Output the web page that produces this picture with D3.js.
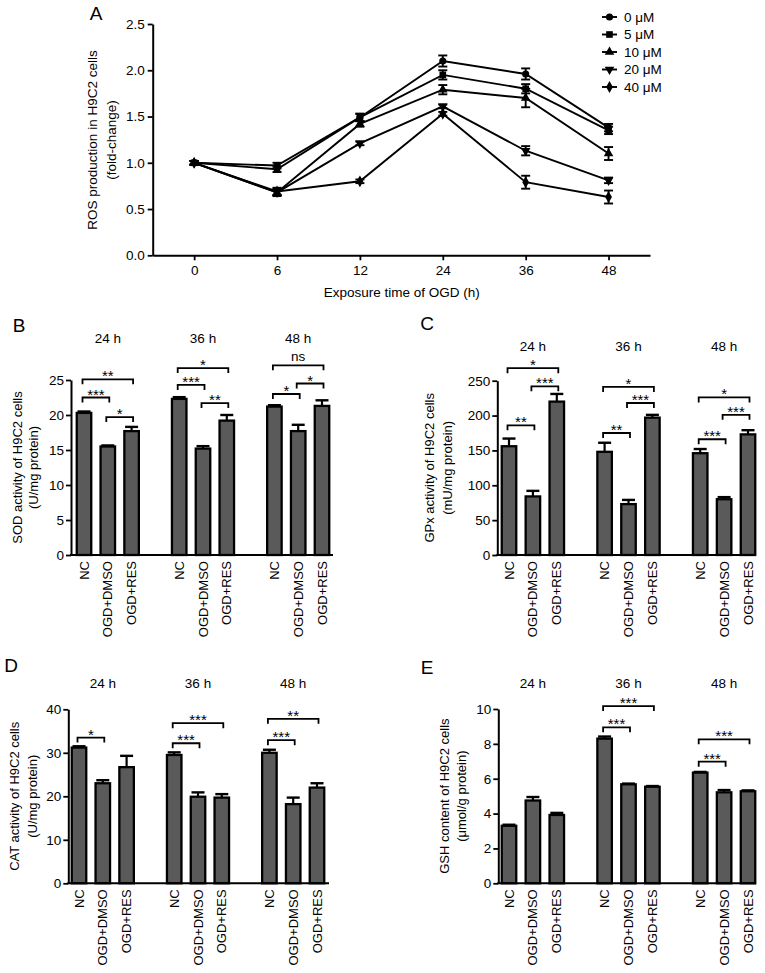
<!DOCTYPE html>
<html><head><meta charset="utf-8">
<script src="https://cdn.jsdelivr.net/npm/d3@7"></script>
<style>
body{margin:0;background:#fff}
svg{display:block}
text{font-family:"Liberation Sans",Arial,Helvetica,sans-serif;fill:#000}
</style>
</head><body>
<svg id="chart" width="765" height="973"></svg>
<script>
// ---------------- Panel A data ----------------
const timePoints = ["0","6","12","24","36","48"];
const doses = ["0 \u03bcM","5 \u03bcM","10 \u03bcM","20 \u03bcM","40 \u03bcM"];
const ros0  = [1.00,0.97,1.49,2.10,1.96,1.38];
const ros5  = [1.00,0.93,1.49,1.95,1.80,1.35];
const ros10 = [1.00,0.68,1.42,1.79,1.70,1.10];
const ros20 = [1.00,0.68,1.21,1.61,1.13,0.81];
const ros40 = [1.00,0.69,0.80,1.53,0.79,0.63];
const rosErr0  = [0.02,0.03,0.04,0.06,0.06,0.04];
const rosErr5  = [0.02,0.03,0.04,0.05,0.05,0.04];
const rosErr10 = [0.02,0.04,0.03,0.05,0.10,0.07];
const rosErr20 = [0.02,0.03,0.02,0.02,0.05,0.03];
const rosErr40 = [0.02,0.04,0.02,0.02,0.07,0.07];
const rosTicks = [0,0.5,1,1.5,2,2.5];

// ---------------- Bar panels data ----------------
const groups = ["24 h","36 h","48 h"];
const treatments = ["NC","OGD+DMSO","OGD+RES"];

const sodMean = [[20.3,15.5,17.7],[22.3,15.2,19.2],[21.2,17.7,21.3]];
const sodErr  = [[0.2,0.15,0.6],[0.25,0.35,0.8],[0.2,0.9,0.8]];
const sodTicks = [0,5,10,15,20,25];
const sodSig = [[0,0,2,25.1,"**"],[0,0,1,22.5,"***"],[0,1,2,19.7,"*"],
                [1,0,2,26.7,"*"],[1,0,1,24.3,"***"],[1,1,2,21.7,"**"],
                [2,0,2,27.1,"ns"],[2,0,1,23.0,"*"],[2,1,2,24.5,"*"]];

const gpxMean = [[156,84,220],[148,73,197],[146,80,173]];
const gpxErr  = [[11,8,11],[13,6,4],[6,3,6]];
const gpxTicks = [0,50,100,150,200,250];
const gpxSig = [[0,0,2,268,"*"],[0,1,2,242,"***"],[0,0,1,186,"**"],
                [1,0,2,241,"*"],[1,1,2,218,"***"],[1,0,1,175,"**"],
                [2,0,2,226,"*"],[2,1,2,201,"***"],[2,0,1,166,"***"]];

const catMean = [[31.2,23.0,26.7],[29.5,19.9,19.7],[30.0,18.2,22.0]];
const catErr  = [[0.3,0.7,2.6],[0.6,1.0,0.8],[0.7,1.5,1.0]];
const catTicks = [0,10,20,30,40];
const catSig = [[0,0,1,33.5,"*"],
                [1,0,2,36.8,"***"],[1,0,1,32.2,"***"],
                [2,0,2,37.8,"**"],[2,0,1,32.9,"***"]];

const gshMean = [[3.3,4.75,3.92],[8.3,5.68,5.54],[6.35,5.22,5.28]];
const gshErr  = [[0.06,0.2,0.12],[0.12,0.04,0.04],[0.04,0.13,0.05]];
const gshTicks = [0,2,4,6,8,10];
const gshSig = [[1,0,2,10.17,"***"],[1,0,1,8.95,"***"],
                [2,0,2,8.26,"***"],[2,0,1,6.98,"***"]];

// ---------------- drawing ----------------
const svg = d3.select("#chart");
const FONT = 13.5;

function styleAxis(g){
  g.select(".domain").attr("stroke","#000").attr("stroke-width",2);
  g.selectAll(".tick line").attr("stroke","#000").attr("stroke-width",1.8);
  g.selectAll(".tick text").attr("font-size",FONT).attr("fill","#000")
    .style("font-family","'Liberation Sans',Arial,sans-serif");
}

// ----- Panel A -----
(function(){
  const x = d3.scalePoint().domain(timePoints).range([152.7,650]).padding(0.5);
  const y = d3.scaleLinear().domain([0,2.5]).range([255.3,24]);
  const g = svg.append("g");
  g.append("text").attr("x",96).attr("y",20).attr("font-size",19).attr("text-anchor","middle").text("A");

  const ya = g.append("g").attr("transform","translate(152.7,0)")
    .call(d3.axisLeft(y).tickValues(rosTicks).tickFormat(d3.format(".1f")).tickSize(5).tickSizeOuter(0).tickPadding(3));
  styleAxis(ya);
  const xa = g.append("g").attr("transform","translate(0,255.3)")
    .call(d3.axisBottom(x).tickSize(5).tickSizeOuter(0).tickPadding(5));
  styleAxis(xa);

  g.append("text").attr("x",401.7).attr("y",297).attr("text-anchor","middle").attr("font-size",FONT)
    .text("Exposure time of OGD (h)");
  const yl = g.append("text").attr("transform","translate(0,140) rotate(-90)").attr("text-anchor","middle").attr("font-size",FONT);
  yl.append("tspan").attr("x",0).attr("y",97).text("ROS production in H9C2 cells");
  yl.append("tspan").attr("x",0).attr("y",116).text("(fold-change)");

  const series = [ros0,ros5,ros10,ros20,ros40];
  const errs = [rosErr0,rosErr5,rosErr10,rosErr20,rosErr40];
  const syms = [
    {t:d3.symbolCircle,s:40,r:0},{t:d3.symbolSquare,s:44,r:0},
    {t:d3.symbolTriangle,s:40,r:0},{t:d3.symbolTriangle,s:40,r:180},
    {t:d3.symbolDiamond,s:40,r:0}];
  const line = d3.line().x((d,i)=>x(timePoints[i])).y(d=>y(d));
  series.forEach((s,k)=>{
    g.append("path").attr("d",line(s)).attr("fill","none").attr("stroke","#000").attr("stroke-width",1.9);
  });
  series.forEach((s,k)=>{
    s.forEach((v,i)=>{
      const cx = x(timePoints[i]), e = errs[k][i];
      const y1 = y(v+e), y2 = y(v-e);
      g.append("line").attr("x1",cx).attr("x2",cx).attr("y1",y1).attr("y2",y2).attr("stroke","#000").attr("stroke-width",1.9);
      [y1,y2].forEach(yy=>g.append("line").attr("x1",cx-4.5).attr("x2",cx+4.5).attr("y1",yy).attr("y2",yy).attr("stroke","#000").attr("stroke-width",1.9));
      g.append("path").attr("d",d3.symbol().type(syms[k].t).size(syms[k].s)())
        .attr("transform",`translate(${cx},${y(v)}) rotate(${syms[k].r})`).attr("fill","#000");
    });
  });
  // legend
  const ly = d3.scalePoint().domain(doses).range([17,87]);
  doses.forEach((d,k)=>{
    const yy = ly(d);
    g.append("line").attr("x1",602).attr("x2",617).attr("y1",yy).attr("y2",yy).attr("stroke","#000").attr("stroke-width",1.9);
    g.append("path").attr("d",d3.symbol().type(syms[k].t).size(syms[k].s)())
      .attr("transform",`translate(609.5,${yy}) rotate(${syms[k].r})`).attr("fill","#000");
    g.append("text").attr("x",624).attr("y",yy).attr("dy","0.35em").attr("font-size",FONT).text(d);
  });
})();

// ----- Bar panels -----
function barPanel(cfg){
  const {label,lx,ly,mean,err,ticks,sig,yTitle1,yTitle2,ytx1,ytx2,
         ax0,ax1,c0,step,y0,y1,ymax,gly} = cfg;
  const g = svg.append("g");
  const slot = d3.scaleLinear().domain([(ax0-c0)/step,(ax1-c0)/step]).range([ax0,ax1]);
  const y = d3.scaleLinear().domain([0,ymax]).range([y0,y1]);
  const cx = (gi,bi)=>slot(gi*4+bi);
  g.append("text").attr("x",lx).attr("y",ly).attr("font-size",19).attr("text-anchor","middle").text(label);

  // bars
  const bw = 14.5;
  mean.forEach((row,gi)=>row.forEach((v,bi)=>{
    const c = cx(gi,bi), e = err[gi][bi];
    g.append("line").attr("x1",c).attr("x2",c).attr("y1",y(v)).attr("y2",y(v+e)).attr("stroke","#000").attr("stroke-width",2.2);
    g.append("line").attr("x1",c-6.5).attr("x2",c+6.5).attr("y1",y(v+e)).attr("y2",y(v+e)).attr("stroke","#000").attr("stroke-width",2.4);
    g.append("rect").attr("x",c-bw/2).attr("y",y(v)).attr("width",bw).attr("height",y(0)-y(v))
      .attr("fill","#5a5a5a").attr("stroke","#000").attr("stroke-width",2.3);
  }));

  const ya = g.append("g").attr("transform",`translate(${ax0},0)`)
    .call(d3.axisLeft(y).tickValues(ticks).tickSize(5).tickSizeOuter(0).tickPadding(2));
  styleAxis(ya);
  g.append("line").attr("x1",ax0-1).attr("x2",ax1).attr("y1",y0).attr("y2",y0).attr("stroke","#000").attr("stroke-width",2);

  // x labels
  groups.forEach((gr,gi)=>{
    g.append("text").attr("x",cx(gi,1)).attr("y",gly).attr("text-anchor","middle").attr("font-size",FONT).text(gr);
    treatments.forEach((t,bi)=>{
      g.append("text").attr("transform",`translate(${cx(gi,bi)},${y0+6}) rotate(-90)`)
        .attr("text-anchor","end").attr("dy","0.35em").attr("font-size",13).text(t);
    });
  });

  // significance brackets
  sig.forEach(([gi,a,b,v,lab])=>{
    const xa = cx(gi,a)-1.5, xb = cx(gi,b)+1.5, yy = y(v);
    g.append("path").attr("d",`M${xa},${yy+5}V${yy}H${xb}V${yy+5}`).attr("fill","none").attr("stroke","#000").attr("stroke-width",1.8);
    if(lab==="ns"){
      g.append("text").attr("x",(xa+xb)/2).attr("y",yy-4).attr("text-anchor","middle").attr("font-size",FONT).text(lab);
    } else {
      g.append("text").attr("x",(xa+xb)/2).attr("y",yy+2).attr("text-anchor","middle").attr("font-size",15).text(lab);
    }
  });

  const yl = g.append("text").attr("transform",`translate(0,${(y0+y1)/2}) rotate(-90)`).attr("text-anchor","middle").attr("font-size",13);
  yl.append("tspan").attr("x",0).attr("y",ytx1+4).text(yTitle1);
  yl.append("tspan").attr("x",0).attr("y",ytx2+4).text(yTitle2);
}

barPanel({label:"B",lx:19,ly:332,mean:sodMean,err:sodErr,ticks:sodTicks,sig:sodSig,
  yTitle1:"SOD activity of H9C2 cells",yTitle2:"(U/mg protein)",ytx1:18,ytx2:34,
  ax0:71,ax1:333,c0:84,step:23.8,y0:555,y1:380,ymax:25,gly:343});
barPanel({label:"C",lx:427,ly:330,mean:gpxMean,err:gpxErr,ticks:gpxTicks,sig:gpxSig,
  yTitle1:"GPx activity of H9C2 cells",yTitle2:"(mU/mg protein)",ytx1:430,ytx2:448,
  ax0:497.3,ax1:753,c0:509,step:23.9,y0:555,y1:380.7,ymax:250,gly:351});
barPanel({label:"D",lx:11,ly:672,mean:catMean,err:catErr,ticks:catTicks,sig:catSig,
  yTitle1:"CAT activity of H9C2 cells",yTitle2:"(U/mg protein)",ytx1:15,ytx2:33,
  ax0:68.3,ax1:329,c0:79,step:23.8,y0:883.3,y1:709.3,ymax:40,gly:688});
barPanel({label:"E",lx:427,ly:674,mean:gshMean,err:gshErr,ticks:gshTicks,sig:gshSig,
  yTitle1:"GSH content of H9C2 cells",yTitle2:"(\u03bcmol/g protein)",ytx1:445,ytx2:462,
  ax0:498.3,ax1:756,c0:509,step:23.9,y0:883.3,y1:709,ymax:10,gly:688});
</script>
</body></html>
